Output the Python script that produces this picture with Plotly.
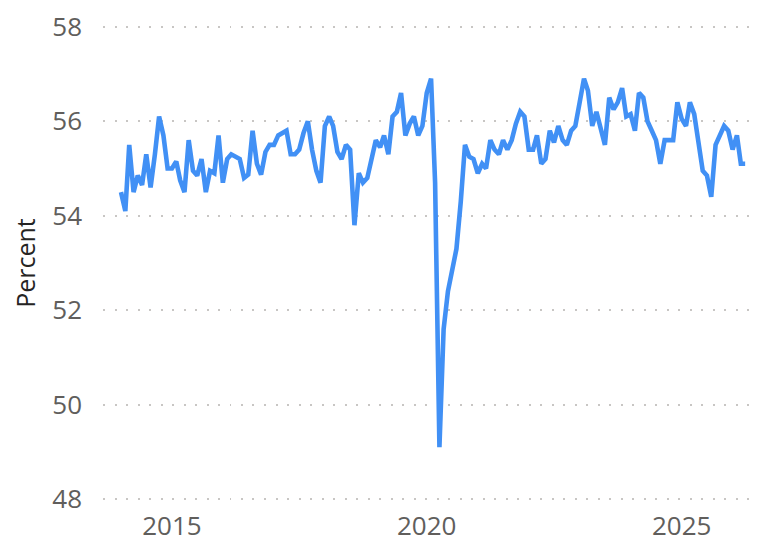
import plotly.graph_objects as go
import pandas as pd

start_month = "2014-01-01"
values = [
    54.5, 54.1, 55.5, 54.5, 54.85, 54.65, 55.3, 54.6, 55.3, 56.1, 55.7, 55.0,
    55.0, 55.15, 54.75, 54.5, 55.6, 54.95, 54.85, 55.2, 54.5, 54.95, 54.9, 55.7,
    54.7, 55.2, 55.3, 55.25, 55.2, 54.8, 54.87, 55.8, 55.1, 54.87, 55.35, 55.5,
    55.5, 55.7, 55.75, 55.8, 55.3, 55.3, 55.4, 55.75, 56.0, 55.4, 54.95, 54.7,
    55.9, 56.1, 55.9, 55.35, 55.2, 55.5, 55.4, 53.8, 54.9, 54.7, 54.8, 55.25,
    55.6, 55.45, 55.7, 55.3, 56.1, 56.2, 56.6, 55.7, 55.95, 56.1, 55.7, 55.9,
    56.6, 56.9, 54.7, 49.1, 51.6, 52.4, 52.85, 53.3, 54.3, 55.5, 55.25, 55.2,
    54.9, 55.1, 55.0, 55.6, 55.4, 55.3, 55.6, 55.4, 55.6, 55.95, 56.2, 56.1,
    55.4, 55.4, 55.7, 55.1, 55.2, 55.8, 55.55, 55.9, 55.6, 55.5, 55.8, 55.9,
    56.4, 56.9, 56.65, 55.9, 56.2, 55.85, 55.5, 56.5, 56.25, 56.4, 56.7, 56.1,
    56.15, 55.8, 56.6, 56.5, 56.0, 55.8, 55.6, 55.1, 55.6, 55.6, 55.6, 56.4,
    56.05, 55.9, 56.4, 56.15, 55.55, 54.95, 54.85, 54.4, 55.5, 55.7, 55.9, 55.8,
    55.4, 55.7, 55.1, 55.1,
]
dates = pd.date_range(start_month, periods=len(values), freq="MS")

y_ticks = [48, 50, 52, 54, 56, 58]
x_tick_years = ["2015-01-01", "2020-01-01", "2025-01-01"]
x_tick_text = ["2015", "2020", "2025"]

fig = go.Figure(go.Scatter(
    x=dates, y=values, mode="lines",
    line=dict(color="#4190F5", width=4.6),
    hoverinfo="skip",
))

fig.update_layout(
    width=758, height=542,
    margin=dict(l=103, r=6, t=22, b=38),
    paper_bgcolor="white", plot_bgcolor="white",
    showlegend=False,
    font=dict(family="Open Sans", color="#605E5C"),
)
fig.update_xaxes(
    range=["2013-08-25", "2026-05-20"],
    tickvals=x_tick_years, ticktext=x_tick_text,
    tickfont=dict(size=26, color="#605E5C"),
    showgrid=False, showline=False, zeroline=False,
    ticks="", ticklabelstandoff=4, automargin=False,
)
fig.update_yaxes(
    range=[47.9, 58.1],
    tickvals=y_ticks,
    tickfont=dict(size=26, color="#605E5C"),
    showgrid=True, gridcolor="#C8C6C4", gridwidth=1.5, griddash="2px,9.5px",
    showline=False, zeroline=False, ticks="", ticklabelstandoff=20,
    automargin=False,
    title=dict(text="Percent", font=dict(size=25, color="#252423"), standoff=9),
)

fig.write_html(
    "out.html",
    config={"displayModeBar": False},
    post_script="document.body.style.margin='0';document.body.style.overflow='hidden';",
)
